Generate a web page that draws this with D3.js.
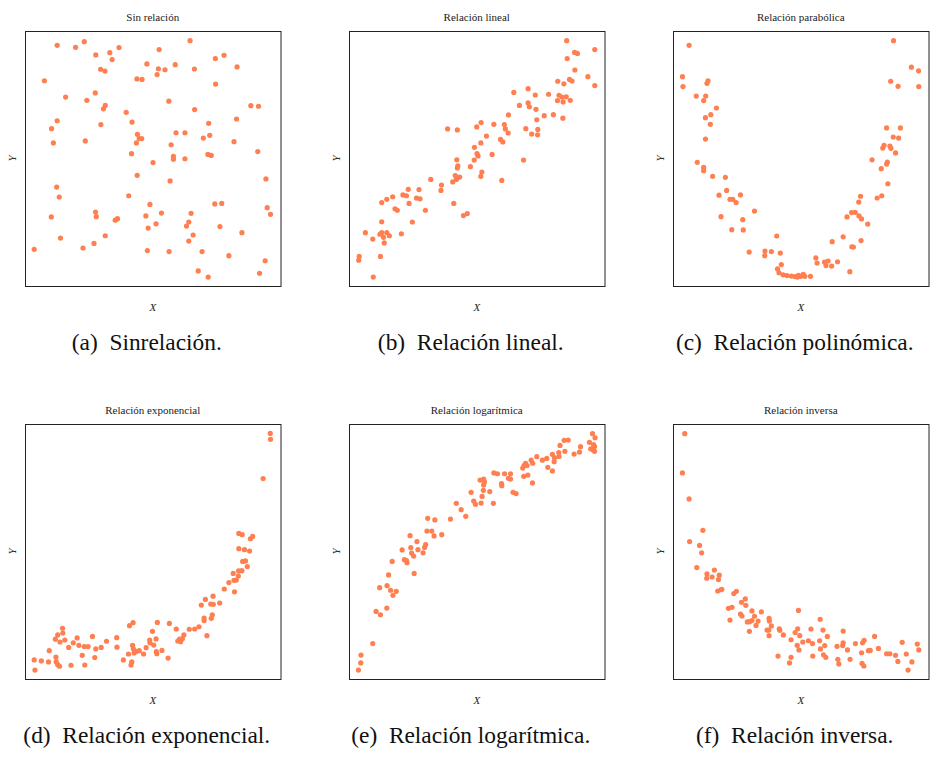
<!DOCTYPE html>
<html>
<head>
  <meta charset="UTF-8">
  <title>Tipos de relación</title>
  <style>
    body { margin: 0; background: #fff; }
    .frame { fill: none; stroke: #222; stroke-width: 1; }
    .dot { fill: #ff7f50; }
    text { font-family: "Liberation Serif", "DejaVu Serif", "Times New Roman", serif; }
    .title { font-size: 11px; text-anchor: middle; fill: #222; }
    .axlab { font-size: 11px; font-style: italic; text-anchor: middle; fill: #222; }
    .caption { font-size: 23.4px; text-anchor: middle; fill: #111; }
  </style>
</head>
<body>
  <div id="chart"></div>

  <script src="https://d3js.org/d3.v7.min.js"></script>
  <script>
    // (a) Sin relación
    const sinX = [12.6,19.8,23.2,27.7,33.2,36.8,34.1,29.6,31.3,7.6,15.9,24.2,27.5,31.4,30.7,12.6,10.4,11.1,29.7,23.6,
      39.6,41.9,44.0,44.7,45.7,43.6,41.7,50.1,43.9,43.8,45.8,47.7,52.5,52.2,51.7,54.8,58.8,64.6,66.3,56.3,
      66.4,59.1,62.6,57.2,58.1,58.1,62.6,56.8,74.5,77.9,83.0,74.6,88.4,91.4,82.8,71.9,72.3,69.8,81.8,71.6,
      72.9,91.1,94.3,94.8,96.1,12.4,13.4,10.3,13.9,3.6,22.7,27.0,27.6,27.9,35.3,36.2,31.4,40.6,48.9,47.3,
      48.2,51.3,53.4,47.9,56.4,65.0,64.1,63.2,65.8,64.1,69.3,67.8,71.7,74.3,77.0,76.3,84.9,79.8,94.0,91.8];
    const sinY = [94.4,93.6,95.8,90.6,91.5,93.5,88.8,85.0,84.3,80.5,74.1,72.8,75.7,70.8,69.5,64.8,61.7,56.1,63.3,56.9,
      68.1,64.3,59.5,57.8,57.8,56.1,51.9,48.4,43.4,81.2,81.0,87.1,92.7,85.2,82.9,84.8,86.8,96.2,85.1,72.5,
      69.2,60.1,60.1,55.4,50.8,49.7,49.9,41.2,89.2,90.5,85.9,79.2,70.7,70.5,65.5,63.8,59.1,58.0,56.6,51.6,
      51.2,52.7,42.0,30.7,28.1,38.8,34.9,27.1,18.8,14.4,14.9,16.7,29.0,27.2,25.8,26.4,19.7,35.4,32.0,27.5,
      22.7,24.4,28.6,13.9,13.5,28.5,25.1,23.5,20.0,17.6,13.5,5.9,3.5,32.2,32.4,23.3,20.9,11.9,9.9,5.0];

    // (b) Relación lineal
    const linX = [85.2,88.3,89.4,96.2,85.4,88.4,93.5,96.2,81.7,84.1,86.3,87.3,78.1,82.2,83.3,85.0,86.6,81.6,83.8,70.1,
      72.9,64.5,66.7,70.1,70.6,73.2,76.4,80.0,83.7,73.5,69.2,73.9,71.5,73.8,62.4,56.7,60.8,61.2,62.3,51.7,
      50.0,53.8,51.6,49.1,59.3,60.2,56.0,50.1,50.5,49.0,68.3,38.6,42.4,42.2,42.6,42.4,47.5,52.0,51.6,41.6,
      43.3,42.0,40.6,59.8,32.0,36.2,36.0,41.0,44.8,46.3,23.2,27.4,21.1,22.5,17.1,14.8,12.8,26.4,27.8,23.5,
      18.0,18.9,29.9,24.8,12.8,6.4,9.3,12.1,12.8,13.5,14.8,15.8,20.5,13.8,12.3,4.0,3.8,9.5];
    const linY = [96.2,91.6,91.2,92.7,89.2,84.7,82.1,78.6,80.3,79.3,81.0,80.4,75.2,74.8,74.1,74.2,72.8,72.7,72.2,77.4,
      74.9,75.9,70.8,71.8,70.3,69.3,66.8,67.2,65.8,65.2,61.7,61.4,59.6,59.3,67.1,63.4,63.3,61.6,60.0,64.1,
      62.4,58.8,56.1,54.4,57.5,56.5,51.6,51.9,51.0,49.4,49.4,61.6,61.2,49.5,47.1,46.3,46.8,44.7,43.0,43.3,
      42.7,41.8,40.8,41.4,41.8,39.6,37.5,32.4,27.6,28.4,37.9,37.8,35.7,35.4,35.0,34.0,32.7,34.5,34.2,32.4,
      30.3,29.7,29.7,25.1,25.2,20.9,18.4,20.3,20.9,19.1,20.9,19.7,20.5,16.9,11.6,11.6,10.1,3.5];

    // (c) Relación parabólica
    const parX = [6.3,3.7,3.9,13.7,13.3,9.1,12.8,12.0,17.0,14.8,12.7,14.6,12.7,9.5,12.0,12.0,15.5,20.5,21.0,18.0,
      22.3,23.4,24.7,26.4,18.8,27.3,31.9,23.0,27.5,29.8,36.0,35.9,38.5,40.6,42.0,42.4,40.9,41.5,43.1,44.6,
      46.3,47.7,49.1,50.0,51.0,51.6,53.8,48.7,55.9,56.4,59.3,59.9,60.7,62.1,64.4,62.3,66.6,69.2,70.0,70.6,
      73.6,68.1,69.9,71.3,72.8,73.8,76.2,72.7,73.4,79.9,81.7,84.1,77.9,81.5,83.6,83.9,82.1,82.6,84.9,85.3,
      87.1,83.6,86.2,89.0,88.3,86.3,85.2,88.1,93.3,96.1,96.2];
    const parY = [94.4,82.1,78.2,80.5,79.5,74.5,74.5,72.7,69.8,67.2,66.0,63.4,57.6,48.5,46.5,45.2,43.0,42.6,37.5,35.6,
      34.0,34.0,32.7,35.7,27.2,26.0,29.4,22.1,22.0,13.3,13.7,11.9,13.5,19.6,12.9,8.4,6.7,5.2,4.4,4.1,
      3.9,3.7,4.2,3.8,4.6,3.8,3.8,3.5,11.0,9.0,9.4,8.0,9.8,7.8,9.5,17.4,19.3,5.6,15.4,15.3,
      17.8,27.1,28.8,28.9,27.5,26.3,24.3,32.9,35.2,34.5,35.4,40.1,49.5,46.0,47.8,48.6,54.1,55.2,54.9,54.0,
      52.2,62.0,58.4,62.0,58.0,96.2,80.3,78.3,85.8,84.4,78.2];

    // (d) Relación exponencial
    const expX = [3.6,3.9,6.4,9.2,9.5,12.1,12.2,12.8,13.5,11.9,12.8,13.7,14.7,14.8,15.6,17.1,18.0,18.9,20.4,21.1,
      22.4,23.2,23.4,24.7,26.4,27.3,27.7,29.8,31.9,35.9,36.0,38.5,40.5,40.9,42.3,42.1,42.4,42.7,41.8,41.5,
      43.5,44.7,46.4,47.4,48.8,48.9,49.9,50.4,51.3,51.4,51.6,51.8,53.6,56.0,56.5,59.2,59.8,60.5,60.9,61.6,
      62.2,64.3,66.4,68.1,70.1,70.1,71.2,69.0,70.6,72.7,73.7,73.6,73.3,72.9,76.2,78.0,79.8,81.5,82.0,81.8,
      82.7,83.5,83.6,84.9,85.2,86.3,87.0,83.7,85.9,87.9,83.7,85.0,88.2,89.1,93.2,96.0,96.1];
    const expY = [7.5,3.5,7.1,6.7,11.1,8.6,6.8,5.6,5.0,15.6,17.3,14.5,19.9,18.0,15.3,12.4,5.4,14.2,16.1,13.2,
      9.3,12.7,5.5,12.7,16.7,8.4,11.8,12.4,14.8,16.2,12.5,7.5,9.8,20.9,22.1,13.2,11.9,10.2,6.7,5.5,
      10.8,11.1,9.8,12.3,15.3,14.2,18.7,13.3,15.7,10.7,9.9,22.2,11.2,8.2,21.8,19.6,14.9,15.6,14.6,15.8,
      17.3,19.5,19.6,20.5,23.9,22.9,17.0,29.0,31.2,29.4,29.3,32.5,25.2,23.8,29.8,35.3,37.8,41.4,34.2,38.7,
      38.8,40.4,42.4,42.5,46.1,46.3,44.1,51.1,50.7,50.2,57.1,56.6,55.0,55.9,78.6,96.3,94.0];

    // (e) Relación logarítmica
    const logX = [3.7,4.6,4.7,9.3,10.6,12.3,14.8,12.0,14.9,16.3,17.2,18.5,15.5,16.9,20.8,21.7,22.5,22.7,23.9,24.2,
      24.5,25.3,25.5,26.6,27.0,29.0,29.6,30.0,30.5,30.8,32.4,33.3,33.6,36.3,39.7,42.0,43.9,45.7,47.8,48.8,
      49.5,51.7,52.1,51.3,52.7,53.0,52.7,52.6,55.1,56.5,56.7,58.1,59.7,59.8,60.9,62.4,63.2,63.2,64.2,65.4,
      68.0,68.5,69.1,69.7,68.4,70.0,71.8,71.3,71.9,73.5,75.7,77.4,77.8,79.6,79.6,80.4,80.3,82.1,82.2,82.6,
      84.2,85.8,84.5,88.1,90.2,90.6,94.1,95.3,96.3,95.7,96.1,94.6,95.4,96.1];
    const logY = [3.5,6.3,9.4,13.9,26.5,25.2,27.8,35.8,36.6,34.8,32.8,34.4,40.8,46.1,50.6,46.8,46.4,45.6,56.2,51.5,
      49.4,48.2,41.4,53.9,50.7,49.5,51.6,52.7,58.0,63.0,58.0,56.1,62.4,56.6,62.7,68.9,66.4,63.8,73.2,69.8,
      68.5,69.0,71.6,78.0,78.4,77.3,76.1,74.0,73.5,68.9,80.8,80.5,76.6,75.8,80.5,78.7,78.4,80.5,73.2,72.7,
      82.7,83.7,84.6,83.7,79.5,80.0,76.9,85.8,84.6,87.2,85.8,86.5,83.0,81.6,88.1,86.8,85.2,88.8,87.3,91.6,
      93.6,93.7,89.3,88.2,89.0,91.1,92.8,96.2,94.6,91.9,91.2,90.3,89.9,89.3];

    // (f) Relación inversa
    const invX = [4.6,3.7,6.3,6.5,11.7,10.4,11.2,9.3,13.3,13.2,15.3,16.2,18.1,17.8,17.5,18.8,19.1,23.8,24.8,21.7,
      23.1,22.3,26.8,28.3,28.5,26.4,27.0,30.9,31.9,34.6,29.1,30.0,30.9,33.3,32.5,29.9,37.6,37.7,38.5,36.8,
      37.5,37.6,41.6,41.8,43.2,41.1,46.2,46.2,45.6,49.1,48.8,47.8,49.6,48.6,49.3,50.8,53.0,54.0,54.6,54.7,
      57.6,58.7,57.4,57.7,59.4,60.4,58.9,59.8,64.2,64.5,64.9,66.4,66.6,66.6,68.3,69.3,71.4,73.8,74.2,74.8,
      74.0,74.7,76.5,77.2,78.9,80.4,83.6,84.9,87.1,88.0,89.7,91.3,92.0,93.5,95.6,96.2];
    const invY = [96.2,80.8,70.6,53.9,58.3,52.4,49.5,43.7,41.2,39.5,40.0,42.7,40.7,39.0,34.5,35.0,35.2,33.5,34.4,27.7,
      28.1,23.1,30.1,31.4,28.9,25.5,24.7,26.7,24.6,26.3,22.4,22.5,22.9,22.7,21.0,18.7,23.8,22.7,20.8,19.2,
      19.2,17.0,19.7,19.1,17.3,9.0,15.4,8.5,6.3,26.9,19.7,18.2,17.0,13.2,11.4,14.5,15.0,19.6,13.9,9.0,
      23.4,19.2,15.0,11.8,13.1,16.7,9.5,8.5,12.8,7.7,5.9,13.1,14.2,18.8,11.4,7.7,13.9,10.3,14.2,15.2,
      6.1,5.1,11.1,11.2,16.7,12.0,9.9,9.9,9.3,6.9,14.4,9.8,3.5,6.7,13.7,11.4];

    const titles = ["Sin relación", "Relación lineal", "Relación parabólica",
      "Relación exponencial", "Relación logarítmica", "Relación inversa"];
    const captions = ["(a)\u2002Sinrelación.", "(b)\u2002Relación lineal.", "(c)\u2002Relación polinómica.",
      "(d)\u2002Relación exponencial.", "(e)\u2002Relación logarítmica.", "(f)\u2002Relación inversa."];
    const seriesX = [sinX, linX, parX, expX, logX, invX];
    const seriesY = [sinY, linY, parY, expY, logY, invY];

    const W = 932, H = 758;
    const colLeft = [25, 349, 673];
    const rowTop = [31, 424];
    const pw = 255.5, ph = 255;

    const svg = d3.select("#chart").append("svg")
      .attr("width", W)
      .attr("height", H);

    titles.forEach((t, i) => {
      const x0 = colLeft[i % 3], y0 = rowTop[Math.floor(i / 3)];
      const g = svg.append("g").attr("transform", `translate(${x0},${y0})`);

      const x = d3.scaleLinear().domain([0, 100]).range([0, pw]);
      const y = d3.scaleLinear().domain([0, 100]).range([ph, 0]);

      const pts = d3.zip(seriesX[i], seriesY[i]);
      g.selectAll(".dot")
        .data(pts)
        .enter()
        .append("circle")
        .attr("class", "dot")
        .attr("cx", d => x(d[0]))
        .attr("cy", d => y(d[1]))
        .attr("r", 2.6);

      g.append("rect")
        .attr("class", "frame")
        .attr("x", 0.5).attr("y", 0.5)
        .attr("width", pw).attr("height", ph);

      g.append("text").attr("class", "title")
        .attr("x", pw / 2).attr("y", -10)
        .text(t);

      g.append("text").attr("class", "axlab")
        .attr("x", pw / 2).attr("y", ph + 25)
        .text("X");

      g.append("text").attr("class", "axlab")
        .attr("transform", `translate(-9,${ph / 2}) rotate(-90)`)
        .text("Y");

      g.append("text").attr("class", "caption")
        .attr("x", pw / 2 - 6).attr("y", ph + 64)
        .text(captions[i]);
    });
  </script>
</body>
</html>
